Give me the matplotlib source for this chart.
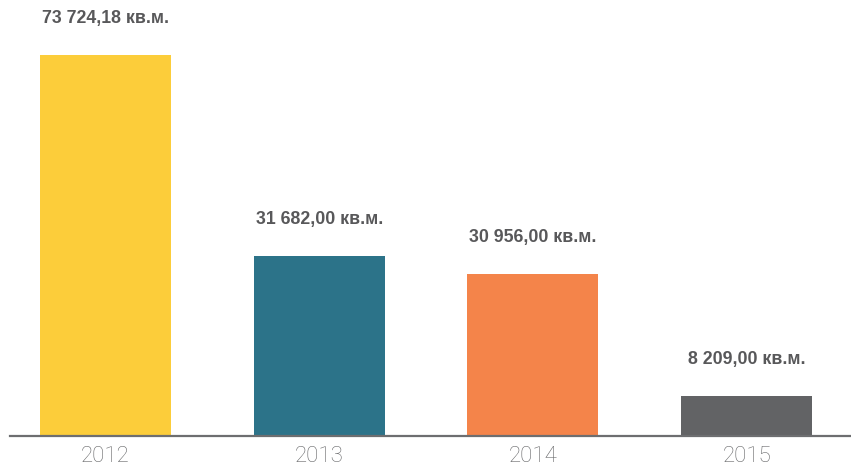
import matplotlib

matplotlib.use("Agg")
import matplotlib.pyplot as plt  # noqa: E402
import numpy as np  # noqa: E402

# Dados
ANOS = ["2012", "2013", "2014", "2015"]
ROTULOS = ["73 724,18 кв.м.", "31 682,00 кв.м.", "30 956,00 кв.м.", "8 209,00 кв.м."]
# alturas (o original não é proporcional aos rótulos)
ALTURAS = [73724.18, 34830, 31350, 7740]
CORES = ["#fccd3a", "#2c7389", "#f4844a", "#626365"]

TEXTO = "#58585a"
EIXO = "#6d6e70"


def main() -> None:
    fig = plt.figure(figsize=(8.51, 4.71), dpi=100)
    ax = fig.add_axes([10 / 851, 35 / 471, 841 / 851, 436 / 471])

    x = np.arange(len(ANOS))
    barras = ax.bar(x, ALTURAS, width=0.613, color=CORES)

    for b, txt in zip(barras, ROTULOS):
        ax.annotate(txt, (b.get_x() + b.get_width() / 2, b.get_height()),
                    xytext=(0, 26.5), textcoords="offset points",
                    ha="center", va="center", fontsize=12.8, fontweight="bold",
                    color=TEXTO, family="Liberation Sans")

    ax.set_xlim(-0.447, 3.488)
    ax.set_ylim(0, ALTURAS[0] * 436 / 381)
    ax.set_xticks(x, ANOS)
    ax.tick_params(axis="x", length=0, pad=7, labelsize=16, labelcolor="#666769")
    for lbl in ax.get_xticklabels():
        lbl.set_family("Roboto")
        lbl.set_fontweight("light")
    ax.set_yticks([])
    for lado in ("top", "right", "left"):
        ax.spines[lado].set_visible(False)
    ax.spines["bottom"].set_color(EIXO)
    ax.spines["bottom"].set_linewidth(1.6)

    fig.savefig("out.png", dpi=100, facecolor="white")
    plt.close(fig)


if __name__ == "__main__":
    main()
